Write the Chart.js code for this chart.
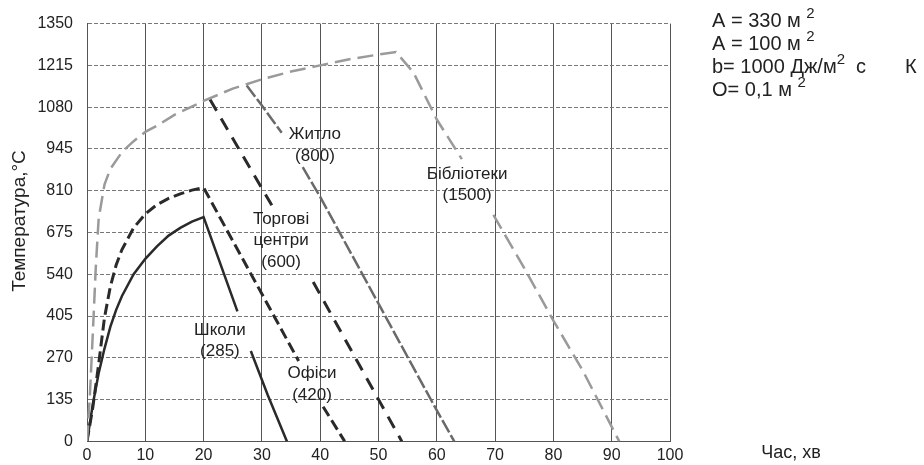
<!DOCTYPE html>
<html>
<head>
<meta charset="utf-8">
<script src="https://cdn.jsdelivr.net/npm/chart.js@4.4.1/dist/chart.umd.min.js"></script>
<style>
html,body{margin:0;padding:0;background:#fff;}
#wrap{width:924px;height:465px;}
</style>
</head>
<body>
<div id="wrap"><canvas id="c" width="924" height="465"></canvas></div>
<script>
// ---- data (time in minutes, temperature in °C) ----
const xTicks = [0,10,20,30,40,50,60,70,80,90,100];
const yTicks = [0,135,270,405,540,675,810,945,1080,1215,1350];

const schoolX = [0,1,2,3,4,5,6,8,10,12,14,16,18,20,25.8,26.9,28.1,31,34.3];
const schoolY = [0,120,220,300,370,425,470,540,590,630,665,690,710,725,420,null,292,150,0];

const officeX = [0,1,2,3,4,5,6,8,10,12,14,16,18,20,36.3,38,40.5,44.2];
const officeY = [0,110,250,400,500,570,620,690,735,765,785,800,812,820,260,null,112,0];

const mallX = [21.1,31.7,35,38.8,54];
const mallY = [1105,763,null,515,0];

const homeX = [27.4,30,33.4,35,37,40,50,60,63];
const homeY = [1150,1085,997,null,886,790,445,100,0];

const libX = [0,0.5,1,1.5,2,3,4,6,8,10,12,15,20,25,30,35,40,45,50,53,56,60,64.3,67,69.7,75,80,85,91.3];
const libY = [0,150,350,560,720,830,880,935,970,1000,1020,1055,1100,1140,1170,1195,1215,1235,1250,1258,1192,1040,912,null,732,560,390,230,0];

// curve labels: lines of text and anchor (data units) of the first line
const labelLines = [["Житло","(800)"],["Бібліотеки","(1500)"],["Торгові","центри","(600)"],["Школи","(285)"],["Офіси","(420)"]];
const labelAtX = [39.1, 65.2, 33.3, 22.8, 38.6];
const labelAtY = [991, 864, 718, 359, 219];

// parameter block on the right: [text, superscript, text]
const paramRows = [["A = 330 м ", "2", ""],["A = 100 м ", "2", ""],["b= 1000 Дж/м", "2", "  с       К"],["O= 0,1 м ", "2", ""]];

const yTitle = "Температура,°C";
const xTitle = "Час, хв";

function pts(xs, ys){ return xs.map((x,i)=>({x:x, y:ys[i]})); }

const FONT = "'Liberation Sans', Arial, sans-serif";

const textPlugin = {
  id:'texts',
  afterDraw(chart){
    const ctx = chart.ctx, xs = chart.scales.x, ys = chart.scales.y;
    ctx.save();
    ctx.fillStyle = '#222';
    ctx.textAlign = 'center';
    ctx.textBaseline = 'middle';
    ctx.font = '17px ' + FONT;
    labelLines.forEach((lines, k)=>{
      const px = xs.getPixelForValue(labelAtX[k]);
      const py = ys.getPixelForValue(labelAtY[k]);
      lines.forEach((t, j)=>{ ctx.fillText(t, px, py + j*21.5); });
    });
    // y title
    ctx.save();
    ctx.translate(20, 221);
    ctx.rotate(-Math.PI/2);
    ctx.font = '19px ' + FONT;
    ctx.fillText(yTitle, 0, 0);
    ctx.restore();
    // x title
    ctx.font = '18px ' + FONT;
    ctx.fillText(xTitle, 791, 453);
    // params
    ctx.textAlign = 'left';
    paramRows.forEach((r, i)=>{
      let x = 712, y = 21 + i*23;
      ctx.font = '20px ' + FONT;
      ctx.fillText(r[0], x, y); x += ctx.measureText(r[0]).width;
      ctx.font = '15px ' + FONT;
      ctx.fillText(r[1], x, y - 7); x += ctx.measureText(r[1]).width;
      ctx.font = '20px ' + FONT;
      ctx.fillText(r[2], x, y);
    });
    ctx.restore();
  }
};

new Chart(document.getElementById('c'), {
  type:'scatter',
  data:{
    datasets:[
      {label:'Бібліотеки', data:pts(libX, libY), showLine:true, borderColor:'#9a9a9a', borderWidth:2.5, borderDash:[16,7], pointRadius:0, spanGaps:false},
      {label:'Житло', data:pts(homeX, homeY), showLine:true, borderColor:'#6a6a6a', borderWidth:2.5, borderDash:[14,3], pointRadius:0, spanGaps:false},
      {label:'Торгові центри', data:pts(mallX, mallY), showLine:true, borderColor:'#2a2a2a', borderWidth:3, borderDash:[13,9], pointRadius:0, spanGaps:false},
      {label:'Офіси', data:pts(officeX, officeY), showLine:true, borderColor:'#2a2a2a', borderWidth:3, borderDash:[11,5], pointRadius:0, spanGaps:false},
      {label:'Школи', data:pts(schoolX, schoolY), showLine:true, borderColor:'#2a2a2a', borderWidth:2.5, pointRadius:0, spanGaps:false}
    ]
  },
  options:{
    responsive:false,
    devicePixelRatio:1,
    animation:false,
    layout:{padding:{left:0,right:254,top:17,bottom:0}},
    plugins:{legend:{display:false}, tooltip:{enabled:false}},
    scales:{
      x:{
        type:'linear', min:0, max:100,
        afterBuildTicks(s){ s.ticks = xTicks.map(v=>({value:v})); },
        afterFit(s){ s.height = 23; },
        ticks:{font:{size:16, family:FONT}, color:'#222', padding:5, callback:v=>String(v)},
        grid:{color:'#555', lineWidth:1, drawTicks:false},
        border:{display:true, color:'#555'}
      },
      y:{
        type:'linear', min:0, max:1350,
        afterBuildTicks(s){ s.ticks = yTicks.map(v=>({value:v})); },
        afterFit(s){ s.width = 87; },
        ticks:{font:{size:16, family:FONT}, color:'#222', padding:14, callback:v=>String(v)},
        grid:{color:'#777', lineWidth:1, drawTicks:false},
        border:{display:true, color:'#555', dash:[4,2]}
      }
    }
  },
  plugins:[textPlugin]
});
</script>
</body>
</html>
